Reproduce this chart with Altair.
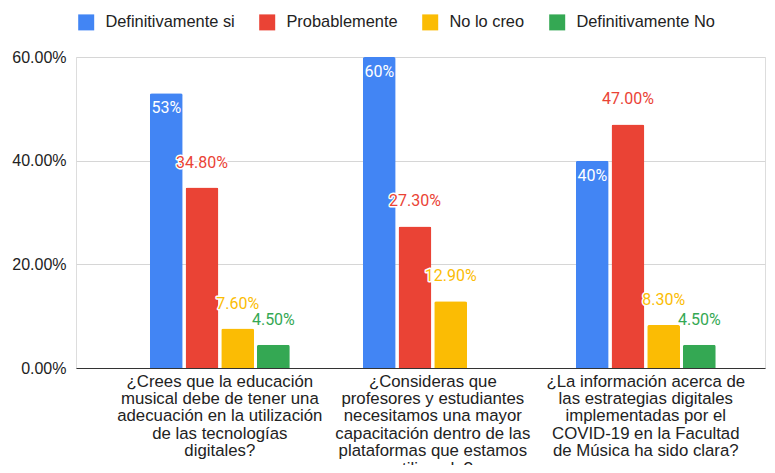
import altair as alt
import pandas as pd

categories = [
    "¿Crees que la educación\nmusical debe de tener una\nadecuación en la utilización\nde las tecnologías\ndigitales?",
    "¿Consideras que\nprofesores y estudiantes\nnecesitamos una mayor\ncapacitación dentro de las\nplataformas que estamos\nutilizando?",
    "¿La información acerca de\nlas estrategias digitales\nimplementadas por el\nCOVID-19 en la Facultad\nde Música ha sido clara?",
]
series = ["Definitivamente si", "Probablemente", "No lo creo", "Definitivamente No"]
colors = ["#4285F4", "#EA4335", "#FBBC04", "#34A853"]
label_colors = ["#FFFFFF", "#EA4335", "#FBBC04", "#34A853"]

definitivamente_si = [0.53, 0.60, 0.40]
probablemente = [0.348, 0.273, 0.47]
no_lo_creo = [0.076, 0.129, 0.083]
definitivamente_no = [0.045, None, 0.045]

values = [definitivamente_si, probablemente, no_lo_creo, definitivamente_no]
rows = []
for si, s in enumerate(series):
    for ci, c in enumerate(categories):
        v = values[si][ci]
        if v is None:
            continue
        lab = f"{v*100:.0f}%" if si == 0 else f"{v*100:.2f}%"
        rows.append({"cat": c, "series": s, "value": v, "label": lab,
                     "tc": label_colors[si], "top": si == 0})
df = pd.DataFrame(rows)

FONT = "Liberation Sans"

x = alt.X("cat:N", sort=categories, title=None,
          scale=alt.Scale(paddingInner=0.343, paddingOuter=0.289, align=0.6),
          axis=alt.Axis(labelExpr="split(datum.label, '\\n')", labelAngle=0,
                        labelFontSize=16.8, labelFont=FONT, labelColor="#222222",
                        labelLineHeight=17.4, labelLimit=400, labelPadding=5,
                        ticks=False, domainColor="#333333", domainWidth=1, grid=False))
xo = alt.XOffset("series:N", sort=series,
                 scale=alt.Scale(paddingInner=0.08, paddingOuter=0))
y = alt.Y("value:Q", title=None,
          scale=alt.Scale(domain=[0, 0.6], nice=False),
          axis=alt.Axis(values=[0, 0.2, 0.4, 0.6], format=".2%", labelFontSize=16,
                        labelFont=FONT, labelColor="#222222", labelPadding=10,
                        ticks=False, domain=False, gridColor="#d6d6d6", gridWidth=1))

base = alt.Chart(df)

bars = base.mark_bar(cornerRadiusTopLeft=2, cornerRadiusTopRight=2).encode(
    x=x, xOffset=xo, y=y,
    color=alt.Color("series:N", sort=series,
                    scale=alt.Scale(domain=series, range=colors),
                    legend=alt.Legend(title=None, orient="none", direction="horizontal",
                                      legendX=2, legendY=-43, symbolType="square",
                                      symbolSize=256, symbolStrokeWidth=0,
                                      labelFontSize=16.4, labelFont=FONT,
                                      labelColor="#222222", labelOffset=11,
                                      columnPadding=24, padding=0)),
)

halo = base.transform_filter("!datum.top").mark_text(
    font="Roboto", fontSize=16, baseline="middle", dy=-25,
    stroke="white", strokeWidth=3, strokeJoin="round", fill="white"
).encode(x=x, xOffset=xo, y=y, text="label:N")

labels_out = base.transform_filter("!datum.top").mark_text(
    font="Roboto", fontSize=16, baseline="middle", dy=-25
).encode(x=x, xOffset=xo, y=y, text="label:N",
         color=alt.Color("tc:N", scale=None, legend=None))

labels_in = base.transform_filter("datum.top").mark_text(
    font="Roboto", fontSize=16, baseline="middle", dy=15
).encode(x=x, xOffset=xo, y=y, text="label:N",
         color=alt.Color("tc:N", scale=None, legend=None))

chart = alt.layer(bars, halo, labels_out, labels_in).resolve_scale(
    color="independent"
).properties(
    width=689, height=311,
    autosize=alt.AutoSizeParams(type="none"),
    padding={"left": 68, "top": 49, "right": 2, "bottom": 97},
).configure_view(stroke=None).configure(background="white")

chart.save("out.html", embed_options={"renderer": "svg", "actions": False})
